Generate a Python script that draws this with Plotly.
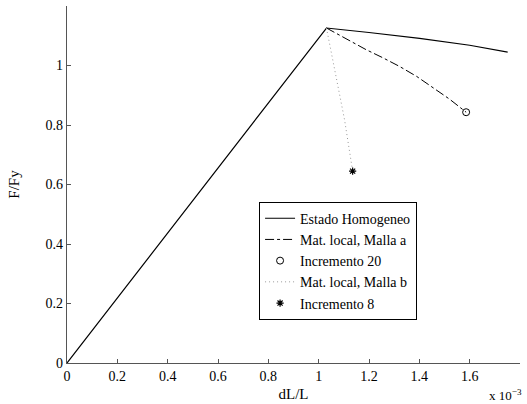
import plotly.graph_objects as go

# Data (strain in units of 1e-3)
hom_x = [0, 1.031, 1.2, 1.401, 1.6, 1.751]
hom_y = [0, 1.126, 1.111, 1.091, 1.068, 1.045]
ma_x = [1.031, 1.11, 1.189, 1.255, 1.321, 1.39, 1.454, 1.52, 1.586]
ma_y = [1.126, 1.089, 1.053, 1.026, 0.997, 0.963, 0.927, 0.887, 0.843]
inc20_x = [1.586]
inc20_y = [0.843]
mb_x = [1.031, 1.103, 1.135]
mb_y = [1.126, 0.817, 0.645]
inc8_x = [1.135]
inc8_y = [0.645]

xticks = [0, 0.2, 0.4, 0.6, 0.8, 1.0, 1.2, 1.4, 1.6, 1.8]
xtick_labels = ["0", "0.2", "0.4", "0.6", "0.8", "1", "1.2", "1.4", "1.6", "1.8"]
yticks = [0, 0.2, 0.4, 0.6, 0.8, 1.0]
ytick_labels = ["0", "0.2", "0.4", "0.6", "0.8", "1"]

font = "Liberation Serif"
fig = go.Figure()
fig.add_trace(go.Scatter(x=hom_x, y=hom_y, mode="lines", name="Estado Homogeneo",
                         line=dict(color="black", width=1.2)))
fig.add_trace(go.Scatter(x=ma_x, y=ma_y, mode="lines", name="Mat. local, Malla a",
                         line=dict(color="black", width=1, dash="dashdot")))
fig.add_trace(go.Scatter(x=inc20_x, y=inc20_y, mode="markers", name="Incremento 20",
                         marker=dict(symbol="circle-open", color="black", size=7, line=dict(width=1))))
fig.add_trace(go.Scatter(x=mb_x, y=mb_y, mode="lines", name="Mat. local, Malla b",
                         line=dict(color="#999999", width=1, dash="1px,3px")))
fig.add_trace(go.Scatter(x=inc8_x, y=inc8_y, mode="markers", name="Incremento 8",
                         marker=dict(symbol="asterisk-open", color="black", size=6, line=dict(width=1.2, color="black"))))

axis_common = dict(showgrid=False, zeroline=False, showline=True, linecolor="#555555",
                   linewidth=1.2, ticks="inside", ticklen=4, tickcolor="#555555",
                   tickfont=dict(family=font, size=14, color="black"))
fig.update_xaxes(range=[0, 1.8], tickvals=xticks, ticktext=xtick_labels,
                 title=dict(text="dL/L", font=dict(family=font, size=15, color="black"), standoff=5),
                 **axis_common)
fig.update_yaxes(range=[0, 1.2], tickvals=yticks, ticktext=ytick_labels,
                 title=dict(text="F/Fy", font=dict(family=font, size=15, color="black"), standoff=22),
                 **axis_common)

fig.add_annotation(x=1.0, y=0, xref="paper", yref="paper", xanchor="right", yanchor="top",
                   yshift=-22, xshift=4, showarrow=False,
                   text="x 10<sup>−3</sup>", font=dict(family=font, size=13, color="black"))

fig.update_layout(
    width=527, height=404,
    margin=dict(l=67, r=7, t=6, b=41),
    plot_bgcolor="white", paper_bgcolor="white",
    font=dict(family=font, size=14, color="black"),
    legend=dict(x=0.424, y=0.452, xanchor="left", yanchor="top",
                bordercolor="black", borderwidth=1, bgcolor="white",
                font=dict(family=font, size=14), tracegroupgap=0,
                itemwidth=30),
    showlegend=True,
)

fig.write_html("out.html")
